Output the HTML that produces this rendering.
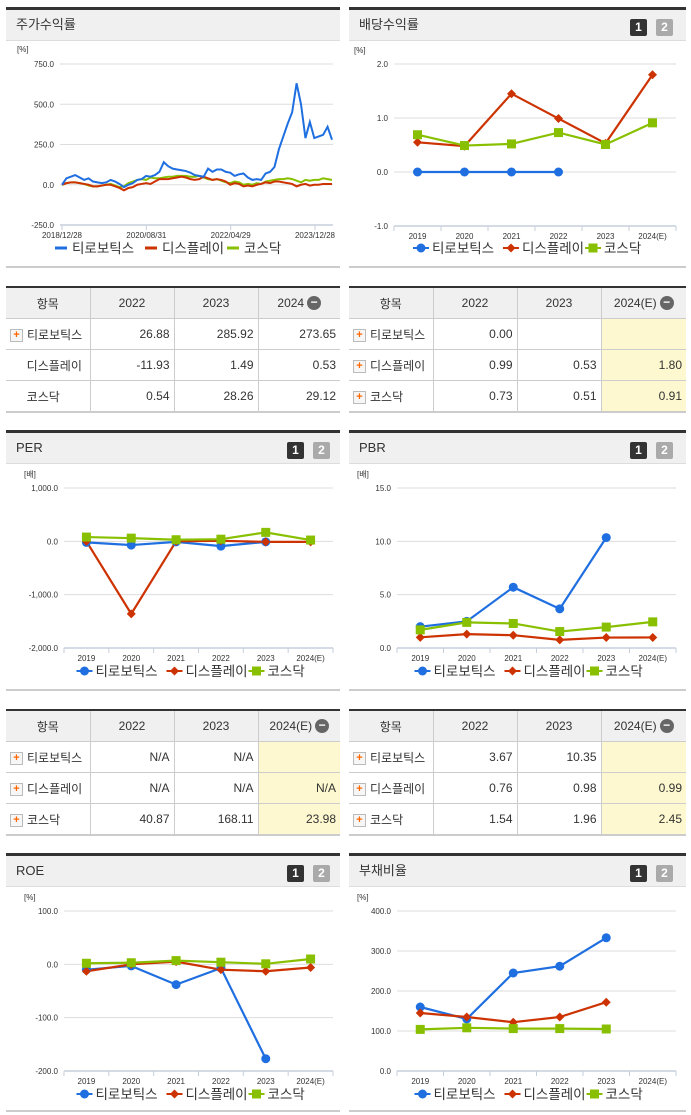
<!DOCTYPE html>
<html><head><meta charset="utf-8">
<style>
body{margin:0;width:691px;height:1115px;background:#fff;position:relative;overflow:hidden;font-family:"Liberation Sans","Noto Sans CJK KR",sans-serif;color:#333}
.panel{position:absolute;border-top:3px solid #333;background:#fff}
.ph{height:30px;background:#f0f0f0;border-bottom:1px solid #ddd;font-size:13px;line-height:30px;padding-left:10px;color:#333}
.pb{position:absolute;left:0;right:0;border-bottom:2px solid #ccc}
.btn{position:absolute;top:6px;width:17px;height:17px;font-size:12px;font-weight:bold;color:#fff;text-align:center;line-height:17px;border-radius:2px}
table{position:absolute;border-collapse:collapse;font-size:12px;border-top:2px solid #333;border-bottom:2px solid #ccc;table-layout:fixed}
td{border:1px solid #ccc;height:30px;padding:0 4px;text-align:right;white-space:nowrap;overflow:hidden}
tr:first-child td{background:#f0f0f0;text-align:center;height:30px}
td:first-child{text-align:left;border-left:none}
td:last-child{border-right:none}
tr:first-child td:first-child{text-align:center}
.y2{background:#fdf8cf}
.pl{display:inline-block;width:11px;height:11px;border:1px solid #bbb;background:#f6f6f6;color:#f60;font-size:11px;line-height:11px;text-align:center;font-weight:bold;margin-right:4px;vertical-align:middle}
.mi{display:inline-block;width:14px;height:14px;border-radius:7px;background:#666;color:#fff;line-height:13px;text-align:center;font-weight:bold;vertical-align:middle;margin-left:3px}
svg{position:absolute;left:0;top:0}
</style></head><body>
<div class="panel" style="left:6px;top:7px;width:334px;height:258px"><div class="ph">주가수익률</div><div class="pb" style="top:256px"></div></div>
<div class="panel" style="left:349px;top:7px;width:337px;height:258px"><div class="ph">배당수익률</div><div class="btn" style="left:281px;top:9px;background:#333">1</div><div class="btn" style="left:307px;top:9px;background:#aaa">2</div><div class="pb" style="top:256px"></div></div>
<div class="panel" style="left:6px;top:430px;width:334px;height:258px"><div class="ph">PER</div><div class="btn" style="left:281px;top:9px;background:#333">1</div><div class="btn" style="left:307px;top:9px;background:#aaa">2</div><div class="pb" style="top:256px"></div></div>
<div class="panel" style="left:349px;top:430px;width:337px;height:258px"><div class="ph">PBR</div><div class="btn" style="left:281px;top:9px;background:#333">1</div><div class="btn" style="left:307px;top:9px;background:#aaa">2</div><div class="pb" style="top:256px"></div></div>
<div class="panel" style="left:6px;top:853px;width:334px;height:256px"><div class="ph">ROE</div><div class="btn" style="left:281px;top:9px;background:#333">1</div><div class="btn" style="left:307px;top:9px;background:#aaa">2</div><div class="pb" style="top:254px"></div></div>
<div class="panel" style="left:349px;top:853px;width:337px;height:256px"><div class="ph">부채비율</div><div class="btn" style="left:281px;top:9px;background:#333">1</div><div class="btn" style="left:307px;top:9px;background:#aaa">2</div><div class="pb" style="top:254px"></div></div>

<table style="left:6px;top:286px;width:334px">
<colgroup><col style="width:84px"><col style="width:84px"><col style="width:84px"><col style="width:82px"></colgroup>
<tr><td>항목</td><td>2022</td><td>2023</td><td>2024<span class="mi">−</span></td></tr>
<tr><td><span class="pl">+</span>티로보틱스</td><td>26.88</td><td>285.92</td><td>273.65</td></tr>
<tr><td>&nbsp;&nbsp;&nbsp;&nbsp;&nbsp;디스플레이</td><td>-11.93</td><td>1.49</td><td>0.53</td></tr>
<tr><td>&nbsp;&nbsp;&nbsp;&nbsp;&nbsp;코스닥</td><td>0.54</td><td>28.26</td><td>29.12</td></tr></table>
<table style="left:349px;top:286px;width:337px">
<colgroup><col style="width:84px"><col style="width:84px"><col style="width:84px"><col style="width:85px"></colgroup>
<tr><td>항목</td><td>2022</td><td>2023</td><td>2024(E)<span class="mi">−</span></td></tr>
<tr><td><span class="pl">+</span>티로보틱스</td><td>0.00</td><td></td><td class="y2"></td></tr>
<tr><td><span class="pl">+</span>디스플레이</td><td>0.99</td><td>0.53</td><td class="y2">1.80</td></tr>
<tr><td><span class="pl">+</span>코스닥</td><td>0.73</td><td>0.51</td><td class="y2">0.91</td></tr></table>
<table style="left:6px;top:709px;width:334px">
<colgroup><col style="width:84px"><col style="width:84px"><col style="width:84px"><col style="width:82px"></colgroup>
<tr><td>항목</td><td>2022</td><td>2023</td><td>2024(E)<span class="mi">−</span></td></tr>
<tr><td><span class="pl">+</span>티로보틱스</td><td>N/A</td><td>N/A</td><td class="y2"></td></tr>
<tr><td><span class="pl">+</span>디스플레이</td><td>N/A</td><td>N/A</td><td class="y2">N/A</td></tr>
<tr><td><span class="pl">+</span>코스닥</td><td>40.87</td><td>168.11</td><td class="y2">23.98</td></tr></table>
<table style="left:349px;top:709px;width:337px">
<colgroup><col style="width:84px"><col style="width:84px"><col style="width:84px"><col style="width:85px"></colgroup>
<tr><td>항목</td><td>2022</td><td>2023</td><td>2024(E)<span class="mi">−</span></td></tr>
<tr><td><span class="pl">+</span>티로보틱스</td><td>3.67</td><td>10.35</td><td class="y2"></td></tr>
<tr><td><span class="pl">+</span>디스플레이</td><td>0.76</td><td>0.98</td><td class="y2">0.99</td></tr>
<tr><td><span class="pl">+</span>코스닥</td><td>1.54</td><td>1.96</td><td class="y2">2.45</td></tr></table>

<svg id="s" width="691" height="1115" font-family="Liberation Sans, Noto Sans CJK KR, sans-serif"></svg>
<script>
const stockTicks=[750,500,250,0,-250];
const stockDates=["2018/12/28","2020/08/31","2022/04/29","2023/12/28"];
const stockBlue=[0,40,50,60,45,30,40,20,15,10,15,30,20,5,-15,0,10,30,35,55,50,60,80,140,115,100,95,90,85,75,60,55,50,100,80,95,95,80,75,55,65,70,45,30,35,30,70,80,110,220,300,380,450,630,500,290,390,290,300,310,360,280];
const stockRed=[0,10,15,15,10,5,0,-10,-10,-5,0,0,-10,-20,-35,-20,-15,0,5,10,5,20,35,35,35,40,45,50,45,35,30,35,50,40,30,35,30,20,0,10,5,-10,-5,-10,0,5,15,10,20,20,15,10,5,-10,0,5,-5,0,0,5,5,5];
const stockGreen=[0,10,15,15,10,5,-5,-10,-10,-5,0,5,-5,-15,-10,10,20,30,35,30,45,40,40,45,50,50,55,55,55,50,50,55,45,35,30,35,25,15,10,20,15,0,5,0,10,5,20,25,30,35,35,40,35,25,15,30,25,30,30,40,35,30];
const years=["2019","2020","2021","2022","2023","2024(E)"];
const divTicks=[2,1,0,-1];
const divBlue=[0,0,0,0,null,null];
const divRed=[0.55,0.48,1.45,0.99,0.53,1.80];
const divGreen=[0.69,0.49,0.52,0.73,0.51,0.91];
const perTicks=[1000,0,-1000,-2000];
const perBlue=[-20,-70,-10,-90,-10,null];
const perRed=[0,-1360,0,10,-10,-10];
const perGreen=[80,60,30,40,168,24];
const pbrTicks=[15,10,5,0];
const pbrBlue=[2.0,2.5,5.7,3.67,10.35,null];
const pbrRed=[1.0,1.3,1.2,0.76,0.98,0.99];
const pbrGreen=[1.7,2.4,2.3,1.54,1.96,2.45];
const roeTicks=[100,0,-100,-200];
const roeBlue=[-10,-3,-38,-7,-177,null];
const roeRed=[-13,0,5,-10,-13,-6];
const roeGreen=[2,3,7,4,1,10];
const debtTicks=[400,300,200,100,0];
const debtBlue=[160,130,245,262,333,null];
const debtRed=[145,135,122,135,172,null];
const debtGreen=[104,108,106,106,105,null];
const names=["티로보틱스","디스플레이","코스닥"];
const colors=["#1f6fe0","#cc3300","#88c000"];
const S=document.getElementById('s');const NS="http://www.w3.org/2000/svg";
function mk(t,a,txt){const e=document.createElementNS(NS,t);for(const k in a)e.setAttribute(k,a[k]);if(txt!=null)e.textContent=txt;S.appendChild(e);return e;}
function marker(i,x,y){let e;
 if(i==0)e=mk('circle',{cx:x,cy:y,r:4.5,fill:colors[0]});
 else if(i==1)e=mk('path',{d:`M${x} ${y-4.5}L${x+4.5} ${y}L${x} ${y+4.5}L${x-4.5} ${y}Z`,fill:colors[1]});
 else e=mk('rect',{x:x-4.5,y:y-4.5,width:9,height:9,fill:colors[2]});
 return e;}
function legend(cx,y,lines){let x=cx-114;
 for(let i=0;i<3;i++){
  if(lines){const l=mk('line',{x1:x-6,y1:y,x2:x+6,y2:y,stroke:colors[i],'stroke-width':3});}
  else{const m=marker(i,x,y);
   mk('line',{x1:x-8,y1:y,x2:x+8,y2:y,stroke:colors[i],'stroke-width':2});}
  const t=mk('text',{x:x+11,y:y+5,'font-size':13.5,fill:'#333'},names[i]);
  
  x+= i==0?90:82;}}
function catChart(c,ticks,series,unit){
 const yOf=v=>c.y0+(c.vmax-v)/(c.vmax-c.vmin)*(c.y1-c.y0);
 const bw=(c.x1-c.x0)/years.length, xOf=i=>c.x0+bw*(i+0.5);
 mk('text',{x:c.x0-40,y:c.y0-11,'font-size':8,fill:'#333'},unit);
 ticks.forEach(v=>{const y=yOf(v);
  if(v!=c.vmin){const g=mk('line',{x1:c.x0,y1:y,x2:c.x1,y2:y,stroke:'#ddd'});}
  const t=mk('text',{x:c.x0-6,y:y+3,'font-size':8,'text-anchor':'end',fill:'#333'},v.toFixed(1).replace(/\B(?=(\d{3})+(?!\d))/g,','));
  });
 mk('line',{x1:c.x0,y1:c.y1,x2:c.x1,y2:c.y1,stroke:'#c5cfdc','stroke-width':1.5});
 for(let i=0;i<=years.length;i++)mk('line',{x1:c.x0+bw*i,y1:c.y1,x2:c.x0+bw*i,y2:c.y1+5,stroke:'#c5cfdc'});
 years.forEach((yr,i)=>{const t=mk('text',{x:xOf(i),y:c.y1+13,'font-size':8,'text-anchor':'middle',fill:'#333'},yr);});
 series.forEach((d,si)=>{let p='';d.forEach((v,i)=>{if(v==null)return;p+=(p?'L':'M')+xOf(i)+' '+yOf(v);});
  const l=mk('path',{d:p,fill:'none',stroke:colors[si],'stroke-width':2.2});});
 series.forEach((d,si)=>d.forEach((v,i)=>{if(v==null)return;const m=marker(si,xOf(i),yOf(v));}));
 legend((c.x0+c.x1)/2,c.ly,false);}
(function(){const c={x0:60,x1:333,y0:64,y1:225,vmax:750,vmin:-250};
 const yOf=v=>c.y0+(c.vmax-v)/(c.vmax-c.vmin)*(c.y1-c.y0);
 const n=stockBlue.length;
 const xOf=i=>62+i*(332-62)/(n-1);
 const tx=i=>62+i*(315-62)/3;
 mk('text',{x:17,y:52,'font-size':8,fill:'#333'},'[%]');
 stockTicks.forEach(v=>{const y=yOf(v);if(v!=c.vmin){const g=mk('line',{x1:c.x0,y1:y,x2:c.x1,y2:y,stroke:'#ddd'});}
  const t=mk('text',{x:c.x0-6,y:y+3,'font-size':8,'text-anchor':'end',fill:'#333'},v.toFixed(1));});
 mk('line',{x1:c.x0,y1:c.y1,x2:c.x1,y2:c.y1,stroke:'#c5cfdc','stroke-width':1.5});
 stockDates.forEach((d,i)=>{const x=tx(i);mk('line',{x1:x,y1:c.y1,x2:x,y2:c.y1+5,stroke:'#c5cfdc'});
  const t=mk('text',{x:x,y:c.y1+13,'font-size':8,'text-anchor':'middle',fill:'#333'},d);});
 [stockBlue,stockRed,stockGreen].map((d,si)=>({d,si})).reverse().forEach(({d,si})=>{const p=d.map((v,i)=>(i?'L':'M')+xOf(i)+' '+yOf(v)).join('');
  const l=mk('path',{d:p,fill:'none',stroke:colors[si],'stroke-width':2});});
 legend(175,248,true);})();
catChart({x0:394,x1:676,y0:64,y1:226,vmax:2,vmin:-1,ly:248},divTicks,[divBlue,divRed,divGreen],'[%]');
catChart({x0:64,x1:333,y0:488,y1:648,vmax:1000,vmin:-2000,ly:671},perTicks,[perBlue,perRed,perGreen],'[배]');
catChart({x0:397,x1:676,y0:488,y1:648,vmax:15,vmin:0,ly:671},pbrTicks,[pbrBlue,pbrRed,pbrGreen],'[배]');
catChart({x0:64,x1:333,y0:911,y1:1071,vmax:100,vmin:-200,ly:1094},roeTicks,[roeBlue,roeRed,roeGreen],'[%]');
catChart({x0:397,x1:676,y0:911,y1:1071,vmax:400,vmin:0,ly:1094},debtTicks,[debtBlue,debtRed,debtGreen],'[%]');
</script>
</body></html>
